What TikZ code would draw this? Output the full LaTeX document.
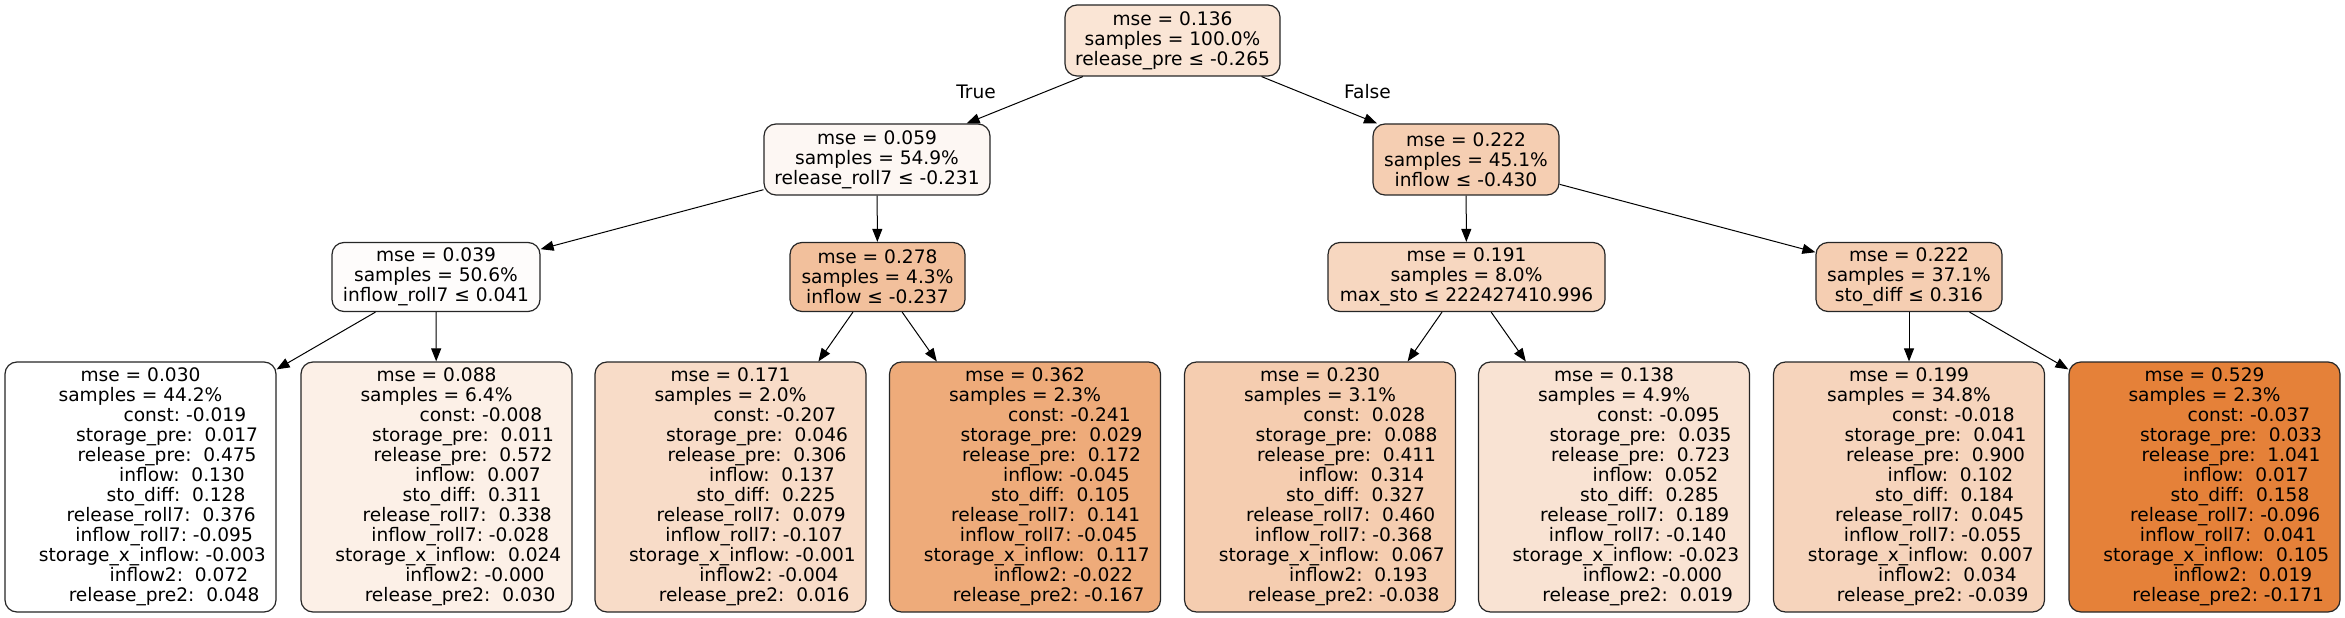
\documentclass[tikz,border=0pt]{standalone}
\usepackage{fontspec}
\setmainfont{DejaVu Sans}
\usetikzlibrary{arrows.meta}
\definecolor{treeorange}{RGB}{229,129,57}
\newcommand{\pad}[1]{\hspace*{#1\fontdimen2\font}}
\tikzset{
  treenode/.style={draw=black!85, line width=0.6pt, rounded corners=6pt, align=center,
    inner sep=1pt, font=\fontsize{9.3}{10}\selectfont, minimum height=35.5pt},
  leafnode/.style={treenode, minimum width=135.5pt, minimum height=125pt},
  treeedge/.style={-{Triangle[length=6.5pt,width=5pt]}, line width=0.5pt},
  branchlabel/.style={font=\fontsize{9.3}{10}\selectfont, inner sep=0pt}
}

\begin{document}
\begin{tikzpicture}[x=1pt,y=1pt]
    \useasboundingbox (0,0) rectangle (1172.5,308.5);
    % Split nodes
    \node[treenode, fill=treeorange!21, minimum width=107.5pt] (root) at (586.25,288.25) {mse = 0.136\\samples = 100.0\%\\release\_pre ≤ -0.265};
    \node[treenode, fill=treeorange!6, minimum width=113pt] (n1) at (438.5,228.75) {mse = 0.059\\samples = 54.9\%\\release\_roll7 ≤ -0.231};
    \node[treenode, fill=treeorange!39, minimum width=93pt] (n2) at (733,228.75) {mse = 0.222\\samples = 45.1\%\\inflow ≤ -0.430};
    \node[treenode, fill=treeorange!2, minimum width=104pt, minimum height=34.5pt] (n3) at (218,170) {mse = 0.039\\samples = 50.6\%\\inflow\_roll7 ≤ 0.041};
    \node[treenode, fill=treeorange!50, minimum width=87.5pt, minimum height=34.5pt] (n4) at (438.75,170) {mse = 0.278\\samples = 4.3\%\\inflow ≤ -0.237};
    \node[treenode, fill=treeorange!32, minimum width=138.5pt, minimum height=34.5pt] (n5) at (733.25,170) {mse = 0.191\\samples = 8.0\%\\max\_sto ≤ 222427410.996};
    \node[treenode, fill=treeorange!39, minimum width=93pt, minimum height=34.5pt] (n6) at (954.5,170) {mse = 0.222\\samples = 37.1\%\\sto\_diff ≤ 0.316};
    % Leaves
    \node[leafnode, fill=white] (leaf1) at (70.25,65) {mse = 0.030\\samples = 44.2\%\\
      \pad{15}const:~-0.019\\\pad{9}storage\_pre:~~0.017\\\pad{9}release\_pre:~~0.475\\
      \pad{14}inflow:~~0.130\\\pad{12}sto\_diff:~~0.128\\\pad{7}release\_roll7:~~0.376\\
      \pad{8}inflow\_roll7:~-0.095\\\pad{4}storage\_x\_inflow:~-0.003\\\pad{13}inflow2:~~0.072\\
      \pad{8}release\_pre2:~~0.048};
    \node[leafnode, fill=treeorange!12] (leaf2) at (218.25,65) {mse = 0.088\\samples = 6.4\%\\
      \pad{15}const:~-0.008\\\pad{9}storage\_pre:~~0.011\\\pad{9}release\_pre:~~0.572\\
      \pad{14}inflow:~~0.007\\\pad{12}sto\_diff:~~0.311\\\pad{7}release\_roll7:~~0.338\\
      \pad{8}inflow\_roll7:~-0.028\\\pad{4}storage\_x\_inflow:~~0.024\\\pad{13}inflow2:~-0.000\\
      \pad{8}release\_pre2:~~0.030};
    \node[leafnode, fill=treeorange!28] (leaf3) at (365.25,65) {mse = 0.171\\samples = 2.0\%\\
      \pad{15}const:~-0.207\\\pad{9}storage\_pre:~~0.046\\\pad{9}release\_pre:~~0.306\\
      \pad{14}inflow:~~0.137\\\pad{12}sto\_diff:~~0.225\\\pad{7}release\_roll7:~~0.079\\
      \pad{8}inflow\_roll7:~-0.107\\\pad{4}storage\_x\_inflow:~-0.001\\\pad{13}inflow2:~-0.004\\
      \pad{8}release\_pre2:~~0.016};
    \node[leafnode, fill=treeorange!67] (leaf4) at (512.5,65) {mse = 0.362\\samples = 2.3\%\\
      \pad{15}const:~-0.241\\\pad{9}storage\_pre:~~0.029\\\pad{9}release\_pre:~~0.172\\
      \pad{14}inflow:~-0.045\\\pad{12}sto\_diff:~~0.105\\\pad{7}release\_roll7:~~0.141\\
      \pad{8}inflow\_roll7:~-0.045\\\pad{4}storage\_x\_inflow:~~0.117\\\pad{13}inflow2:~-0.022\\
      \pad{8}release\_pre2:~-0.167};
    \node[leafnode, fill=treeorange!40] (leaf5) at (660,65) {mse = 0.230\\samples = 3.1\%\\
      \pad{15}const:~~0.028\\\pad{9}storage\_pre:~~0.088\\\pad{9}release\_pre:~~0.411\\
      \pad{14}inflow:~~0.314\\\pad{12}sto\_diff:~~0.327\\\pad{7}release\_roll7:~~0.460\\
      \pad{8}inflow\_roll7:~-0.368\\\pad{4}storage\_x\_inflow:~~0.067\\\pad{13}inflow2:~~0.193\\
      \pad{8}release\_pre2:~-0.038};
    \node[leafnode, fill=treeorange!22] (leaf6) at (807,65) {mse = 0.138\\samples = 4.9\%\\
      \pad{15}const:~-0.095\\\pad{9}storage\_pre:~~0.035\\\pad{9}release\_pre:~~0.723\\
      \pad{14}inflow:~~0.052\\\pad{12}sto\_diff:~~0.285\\\pad{7}release\_roll7:~~0.189\\
      \pad{8}inflow\_roll7:~-0.140\\\pad{4}storage\_x\_inflow:~-0.023\\\pad{13}inflow2:~-0.000\\
      \pad{8}release\_pre2:~~0.019};
    \node[leafnode, fill=treeorange!34] (leaf7) at (954.5,65) {mse = 0.199\\samples = 34.8\%\\
      \pad{15}const:~-0.018\\\pad{9}storage\_pre:~~0.041\\\pad{9}release\_pre:~~0.900\\
      \pad{14}inflow:~~0.102\\\pad{12}sto\_diff:~~0.184\\\pad{7}release\_roll7:~~0.045\\
      \pad{8}inflow\_roll7:~-0.055\\\pad{4}storage\_x\_inflow:~~0.007\\\pad{13}inflow2:~~0.034\\
      \pad{8}release\_pre2:~-0.039};
    \node[leafnode, fill=treeorange] (leaf8) at (1102.25,65) {mse = 0.529\\samples = 2.3\%\\
      \pad{15}const:~-0.037\\\pad{9}storage\_pre:~~0.033\\\pad{9}release\_pre:~~1.041\\
      \pad{14}inflow:~~0.017\\\pad{12}sto\_diff:~~0.158\\\pad{7}release\_roll7:~-0.096\\
      \pad{8}inflow\_roll7:~~0.041\\\pad{4}storage\_x\_inflow:~~0.105\\\pad{13}inflow2:~~0.019\\
      \pad{8}release\_pre2:~-0.171};
    % Branch labels
    \node[branchlabel] (truelbl) at (488,262.75) {True};
    \node[branchlabel] (falselbl) at (683.75,262.75) {False};
    % Edges
    \draw[treeedge] (root) -- (n1);
    \draw[treeedge] (root) -- (n2);
    \draw[treeedge] (n1) -- (n3);
    \draw[treeedge] (n1) -- (n4);
    \draw[treeedge] (n2) -- (n5);
    \draw[treeedge] (n2) -- (n6);
    \draw[treeedge] (n3) -- ([yshift=-4pt]leaf1.north east);
    \draw[treeedge] (n3) -- (leaf2);
    \draw[treeedge] (n4) -- (leaf3);
    \draw[treeedge] (n4) -- (leaf4);
    \draw[treeedge] (n5) -- (leaf5);
    \draw[treeedge] (n5) -- (leaf6);
    \draw[treeedge] (n6) -- (leaf7);
    \draw[treeedge] (n6) -- ([yshift=-4pt]leaf8.north west);
\end{tikzpicture}
\end{document}
